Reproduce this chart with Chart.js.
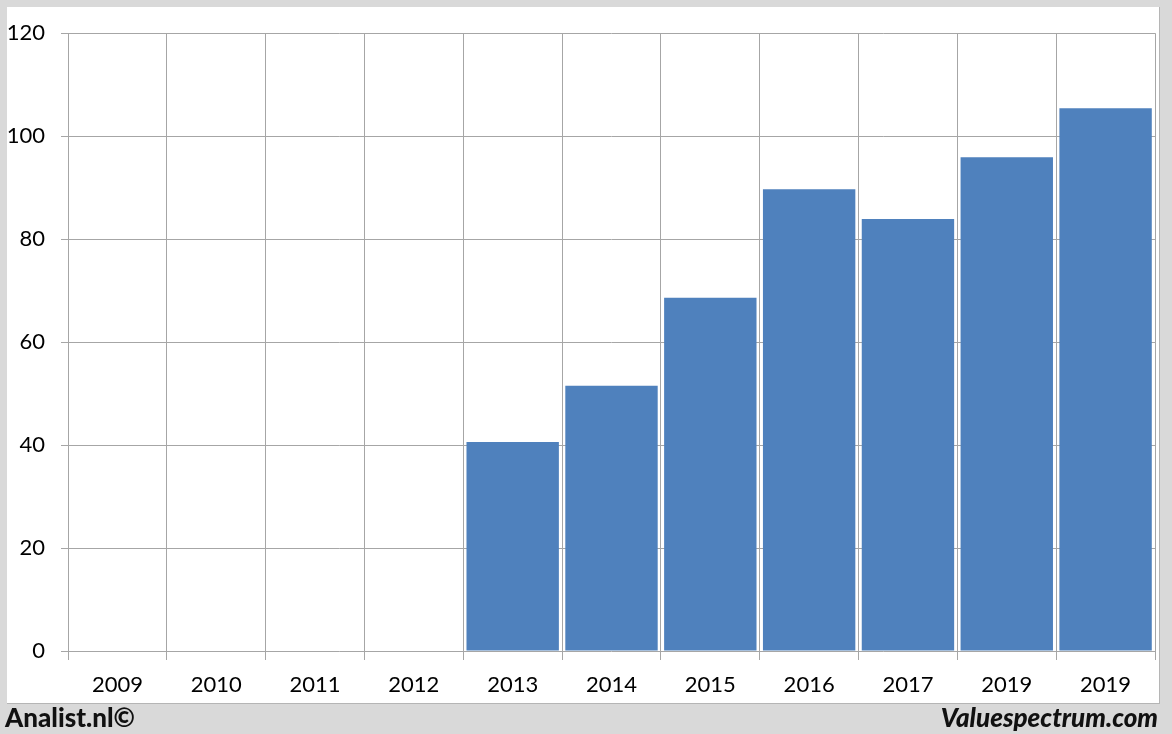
<!DOCTYPE html>
<html>
<head>
<meta charset="utf-8">
<script src="https://cdn.jsdelivr.net/npm/chart.js@4/dist/chart.umd.min.js"></script>
<style>
  body { margin: 0; background: #d9d9d9; width: 1172px; height: 734px; overflow: hidden; position: relative; font-family: Lato, "Open Sans", sans-serif; }
  #panel { position: absolute; left: 7px; top: 7px; width: 1152px; height: 696px; background: #fff; border-right: 1px solid #b5b5b5; border-bottom: 1px solid #b5b5b5; }
  #wrap { position: absolute; left: 0; top: -3px; width: 1153px; height: 700px; }
  .foot { position: absolute; top: 701px; font-size: 26px; font-weight: 900; color: #111; }
  #left { left: 5px; }
  #right { right: 14px; font-style: italic; }
</style>
</head>
<body>
<div id="panel">
  <div id="wrap"><canvas id="myChart"></canvas></div>
</div>
<div class="foot" id="left">Analist.nl©</div>
<div class="foot" id="right">Valuespectrum.com</div>
<script>
const jaren = ['2009', '2010', '2011', '2012', '2013', '2014', '2015', '2016', '2017', '2019', '2019'];
const waarden = [null, null, null, null, 40.6, 51.5, 68.6, 89.7, 83.9, 95.9, 105.4];
const yTicks = [0, 20, 40, 60, 80, 100, 120];

const ctx = document.getElementById('myChart');

new Chart(ctx, {
  type: 'bar',
  data: {
    labels: jaren,
    datasets: [{
      data: waarden,
      backgroundColor: '#4f81bd',
      barPercentage: 0.935,
      categoryPercentage: 1
    }]
  },
  options: {
    responsive: true,
    maintainAspectRatio: false,
    animation: false,
    layout: { padding: { top: 21, right: 5, left: 1, bottom: 0 } },
    plugins: { legend: { display: false }, tooltip: { enabled: false } },
    scales: {
      x: {
        offset: true,
        grid: { offset: true, color: '#a6a6a6', tickLength: 9, lineWidth: 1 },
        border: { display: false },
        ticks: { color: '#000', padding: 12, font: { family: 'Lato', size: 22 } },
        afterFit: (s) => { s.height = 53; }
      },
      y: {
        min: 0,
        max: 120,
        afterBuildTicks: (s) => { s.ticks = yTicks.map(v => ({ value: v })); },
        grid: { color: '#a6a6a6', tickLength: 7, lineWidth: 1 },
        border: { display: false },
        ticks: { color: '#000', padding: 16, font: { family: 'Lato', size: 22 } },
        afterFit: (s) => { s.width = 60; }
      }
    }
  }
});
</script>
</body>
</html>
